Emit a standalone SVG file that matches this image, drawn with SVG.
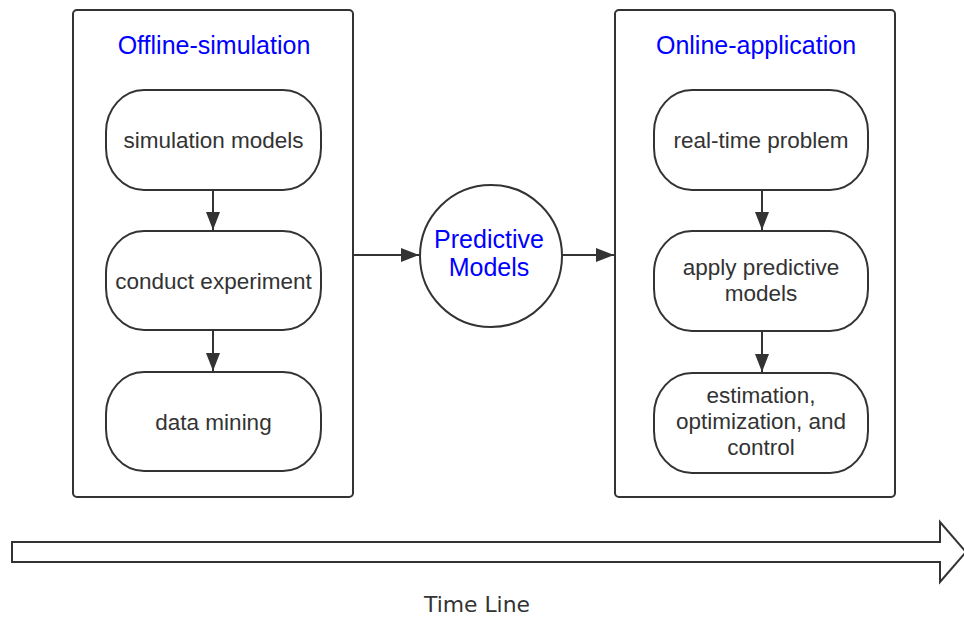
<svg xmlns="http://www.w3.org/2000/svg" width="964" height="617" viewBox="0 0 964 617">
  <style>
    .frame { fill: #fff; stroke: #333; stroke-width: 2; }
    .pill { fill: #fff; stroke: #333; stroke-width: 2; }
    .title { font-family: "Liberation Sans", Arial, sans-serif; font-size: 25px; fill: #0000ff; text-anchor: middle; }
    .label { font-family: "Liberation Sans", Arial, sans-serif; font-size: 22.5px; fill: #333; text-anchor: middle; }
    .link { stroke: #333; stroke-width: 2; fill: none; marker-end: url(#arrow); }
  </style>
  <defs>
    <marker id="arrow" viewBox="0 0 18 14" refX="18" refY="7" markerWidth="18" markerHeight="14" markerUnits="userSpaceOnUse" orient="auto">
      <path d="M0,0 L18,7 L0,14 Z" fill="#333"/>
    </marker>
  </defs>
  <rect width="964" height="617" fill="#fff"/>

  <g id="offline-simulation">
    <rect class="frame" x="73" y="10" width="280" height="487" rx="4"/>
    <text class="title" x="214" y="54">Offline-simulation</text>
  </g>
  <g id="online-application">
    <rect class="frame" x="615" y="10" width="280" height="487" rx="4"/>
    <text class="title" x="756" y="54">Online-application</text>
  </g>

  <g id="simulation-models">
    <rect class="pill" x="106" y="90" width="215" height="100" rx="38" ry="42"/>
    <text class="label" x="213.5" y="148">simulation models</text>
  </g>
  <g id="conduct-experiment">
    <rect class="pill" x="106" y="231" width="215" height="99" rx="38" ry="42"/>
    <text class="label" x="213.5" y="289">conduct experiment</text>
  </g>
  <g id="data-mining">
    <rect class="pill" x="106" y="372" width="215" height="99" rx="38" ry="42"/>
    <text class="label" x="213.5" y="430">data mining</text>
  </g>

  <g id="predictive-models">
    <circle class="pill" cx="491" cy="256" r="71"/>
    <text class="title" x="489" y="248">Predictive</text>
    <text class="title" x="489" y="276">Models</text>
  </g>

  <g id="real-time-problem">
    <rect class="pill" x="654" y="90" width="214" height="100" rx="38" ry="42"/>
    <text class="label" x="761" y="148">real-time problem</text>
  </g>
  <g id="apply-predictive-models">
    <rect class="pill" x="654" y="231" width="214" height="100" rx="38" ry="42"/>
    <text class="label" x="761" y="275">apply predictive</text>
    <text class="label" x="761" y="301">models</text>
  </g>
  <g id="estimation-optimization-control">
    <rect class="pill" x="654" y="373" width="214" height="100" rx="38" ry="42"/>
    <text class="label" x="761" y="403">estimation,</text>
    <text class="label" x="761" y="429">optimization, and</text>
    <text class="label" x="761" y="455">control</text>
  </g>

  <g id="connectors">
    <line class="link" x1="213" y1="190" x2="213" y2="230"/>
    <line class="link" x1="213" y1="330" x2="213" y2="371"/>
    <line class="link" x1="353" y1="255" x2="419" y2="255"/>
    <line class="link" x1="562" y1="255" x2="614" y2="255"/>
    <line class="link" x1="762" y1="190" x2="762" y2="230"/>
    <line class="link" x1="762" y1="331" x2="762" y2="372"/>
  </g>

  <g id="time-line">
    <path d="M12,542 L940,542 L940,522 L966,552 L940,582 L940,562 L12,562 Z" fill="#fff" stroke="#333" stroke-width="2" stroke-linejoin="miter"/>
    <text x="477" y="612" font-family="'DejaVu Sans', sans-serif" font-size="21" fill="#333" text-anchor="middle" textLength="106" lengthAdjust="spacingAndGlyphs">Time Line</text>
  </g>
</svg>
